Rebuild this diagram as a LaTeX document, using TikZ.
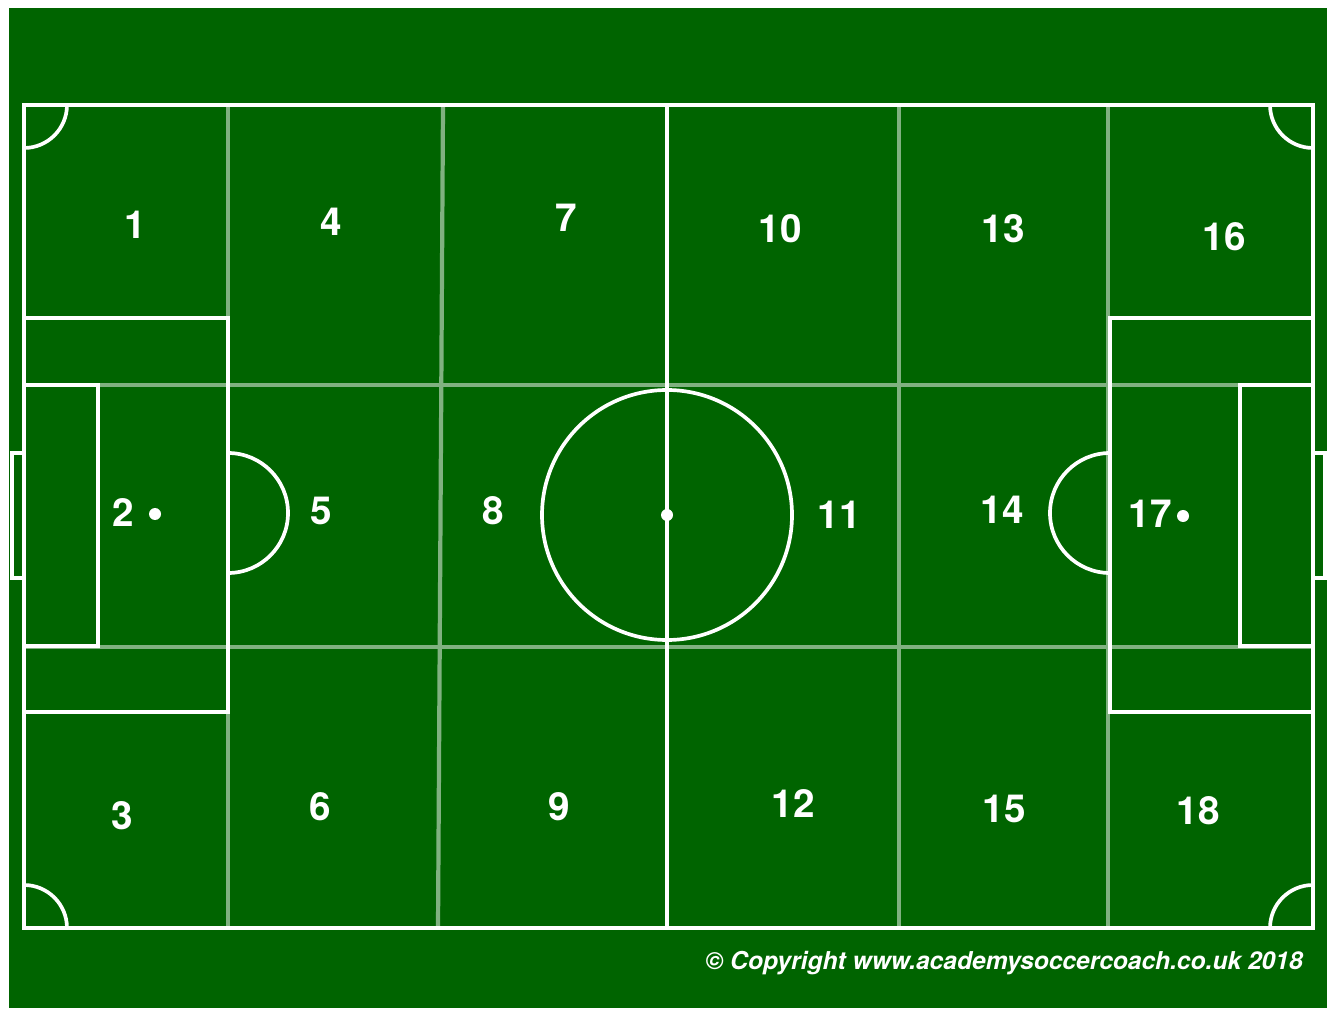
\documentclass[tikz,border=0pt]{standalone}
\usepackage{fontspec}
\setmainfont{TeX Gyre Heros}
\usepackage{xcolor}
\usepackage{tikz}
\definecolor{pitchGreen}{HTML}{006400}
\colorlet{zoneLine}{white!50!pitchGreen}

\begin{document}
\begin{tikzpicture}[x=0.02cm,y=0.02cm,
  mark line/.style={white,line width=2.1pt},
  zone line/.style={zoneLine,line width=2.4pt},
  zone label/.style={white,font=\fontsize{22}{26}\selectfont\bfseries},
  spot/.style={fill=white,draw=none}]
\useasboundingbox (0,0) rectangle (1327,1008);
\fill[white] (0,0) rectangle (1327,1008);
\fill[pitchGreen] (9,0) rectangle (1327,1000);
\draw[zone line] (24,623) -- (1313,623);
\draw[zone line] (24,361) -- (1313,361);
\draw[zone line] (228,80) -- (228,903);
\draw[zone line] (438,80) -- (443,903);
\draw[zone line] (899,80) -- (899,903);
\draw[zone line] (1108,80) -- (1108,903);
\draw[mark line] (24,80) rectangle (1313,903);
\draw[mark line] (667,80) -- (667,903);
\draw[mark line] (667,493) circle[radius=125];
\fill[spot] (667,493) circle[radius=6];
\draw[mark line] (67,903) arc[start angle=0,end angle=-90,radius=43];
\draw[mark line] (1270,903) arc[start angle=180,end angle=270,radius=43];
\draw[mark line] (67,80) arc[start angle=0,end angle=90,radius=43];
\draw[mark line] (1270,80) arc[start angle=180,end angle=90,radius=43];
\draw[mark line] (24,690) -- (228,690) -- (228,296) -- (24,296);
\draw[mark line] (24,623) -- (98,623) -- (98,362) -- (24,362);
\draw[mark line] (228,555) arc[start angle=90,end angle=-90,radius=60];
\fill[spot] (155,494) circle[radius=6];
\draw[mark line] (24,555) -- (12,555) -- (12,430) -- (24,430);
\draw[mark line] (1313,690) -- (1110,690) -- (1110,296) -- (1313,296);
\draw[mark line] (1313,623) -- (1240,623) -- (1240,362) -- (1313,362);
\draw[mark line] (1110,555) arc[start angle=90,end angle=270,radius=60];
\fill[spot] (1183,492) circle[radius=6];
\draw[mark line] (1313,555) -- (1325,555) -- (1325,430) -- (1313,430);
\node[zone label] (z1) at (135,783) {1};
\node[zone label] (z4) at (331,786) {4};
\node[zone label] (z7) at (566,790) {7};
\node[zone label] (z10) at (780,779) {10};
\node[zone label] (z13) at (1003,779) {13};
\node[zone label] (z16) at (1224,771) {16};
\node[zone label] (z2) at (123,495) {2};
\node[zone label] (z5) at (321,497) {5};
\node[zone label] (z8) at (493,497) {8};
\node[zone label] (z11) at (839,493) {11};
\node[zone label] (z14) at (1002,498) {14};
\node[zone label] (z17) at (1150,494) {17};
\node[zone label] (z3) at (122,192) {3};
\node[zone label] (z6) at (320,201) {6};
\node[zone label] (z9) at (559,201) {9};
\node[zone label] (z12) at (793,204) {12};
\node[zone label] (z15) at (1004,199) {15};
\node[zone label] (z18) at (1198,197) {18};
\node[white,font=\fontsize{14}{16}\selectfont\bfseries\itshape] (copy) at (1004,45)
  {\textcopyright\ Copyright www.academysoccercoach.co.uk 2018};
\end{tikzpicture}
\end{document}
